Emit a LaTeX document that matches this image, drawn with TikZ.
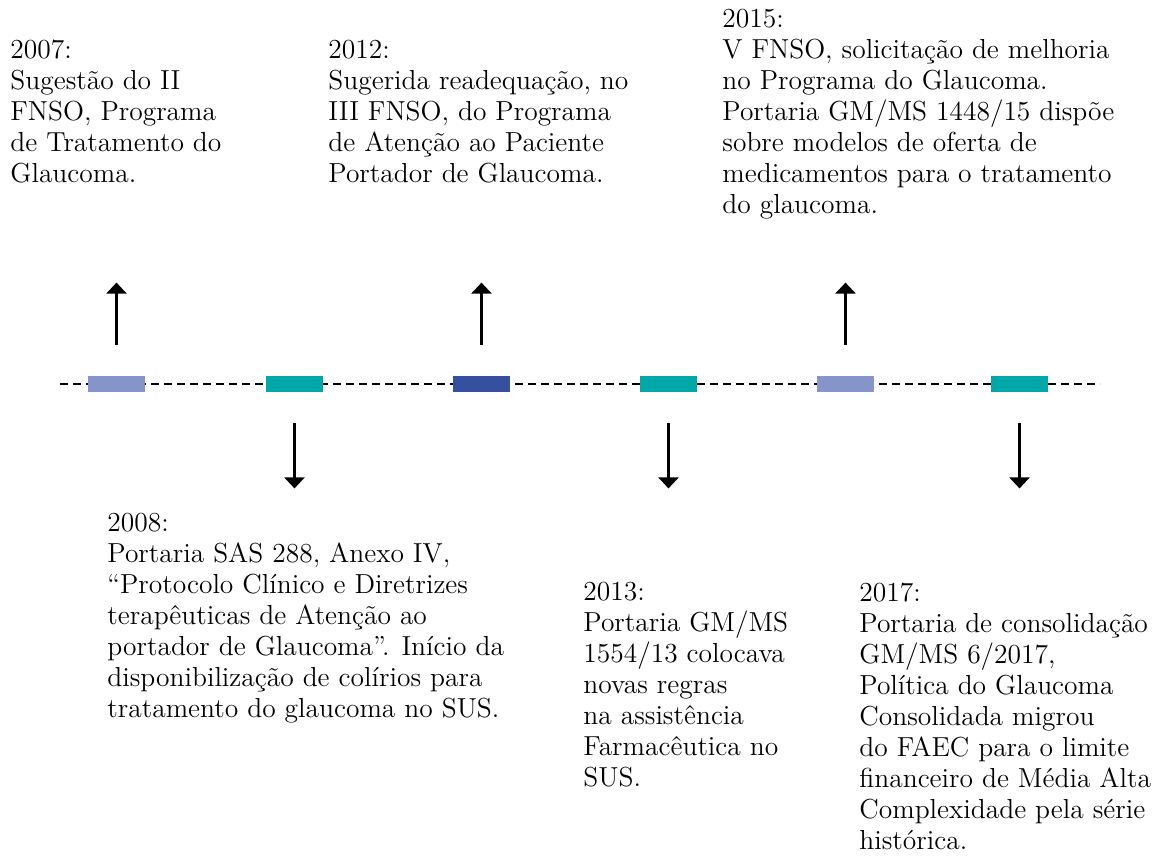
\documentclass[tikz,border=0pt]{standalone}
\usepackage{fontspec}
\usetikzlibrary{arrows.meta}

\definecolor{lilas}{RGB}{133,149,201}
\definecolor{turquesa}{RGB}{0,169,168}
\definecolor{anil}{RGB}{53,80,158}

\begin{document}
\begin{tikzpicture}[x=0.5pt,y=-0.5pt,
	barra/.style={draw=none,rectangle,minimum width=28.5pt,minimum height=8pt,inner sep=0pt},
	seta/.style={line width=1.25pt,-{Triangle[width=10pt,length=5.5pt]}},
	texto/.style={anchor=north west,align=left,inner sep=0pt,font=\fontsize{13.75}{15.5}\selectfont}]
	
	\useasboundingbox (0,0) rectangle (1171,857);
	
	% linha do tempo
	\coordinate (ini) at (60,384);
	\coordinate (fim) at (1100,384);
	\draw[line width=1.25pt,dash pattern=on 4pt off 2.5pt](ini)--(fim);
	
	\node[barra,fill=lilas] (b1) at (116.5,384){};
	\node[barra,fill=turquesa] (b2) at (294.5,384){};
	\node[barra,fill=anil] (b3) at (481.5,384){};
	\node[barra,fill=turquesa] (b4) at (668.5,384){};
	\node[barra,fill=lilas] (b5) at (845.5,384){};
	\node[barra,fill=turquesa] (b6) at (1019.5,384){};
	
	% setas para cima
	\foreach \b in {b1,b3,b5}
	\draw[seta]([yshift=15.5pt]\b.north)--([yshift=46.5pt]\b.north);
	% setas para baixo
	\foreach \b in {b2,b4,b6}
	\draw[seta]([yshift=-15.5pt]\b.south)--([yshift=-48pt]\b.south);
	
	\node[texto] (t2007) at (10,40){2007:\\Sugestão do II\\FNSO, Programa\\de Tratamento do\\Glaucoma.};
	\node[texto] (t2012) at (328,40){2012:\\Sugerida readequação, no\\III FNSO, do Programa\\de Atenção ao Paciente\\Portador de Glaucoma.};
	\node[texto] (t2015) at (722,9){2015:\\V FNSO, solicitação de melhoria\\no Programa do Glaucoma.\\Portaria GM/MS 1448/15 dispõe\\sobre modelos de oferta de\\medicamentos para o tratamento\\do glaucoma.};
	
	\node[texto] (t2008) at (107,513){2008:\\Portaria SAS 288, Anexo IV,\\“Protocolo Clínico e Diretrizes\\terapêuticas de Atenção ao\\portador de Glaucoma”. Início da\\disponibilização de colírios para\\tratamento do glaucoma no SUS.};
	\node[texto] (t2013) at (583,582){2013:\\Portaria GM/MS\\1554/13 colocava\\novas regras\\na assistência\\Farmacêutica no\\SUS.};
	\node[texto] (t2017) at (859,582){2017:\\Portaria de consolidação\\GM/MS 6/2017,\\Política do Glaucoma\\Consolidada migrou\\do FAEC para o limite\\financeiro de Média Alta\\Complexidade pela série\\histórica.};
	
\end{tikzpicture}
\end{document}
